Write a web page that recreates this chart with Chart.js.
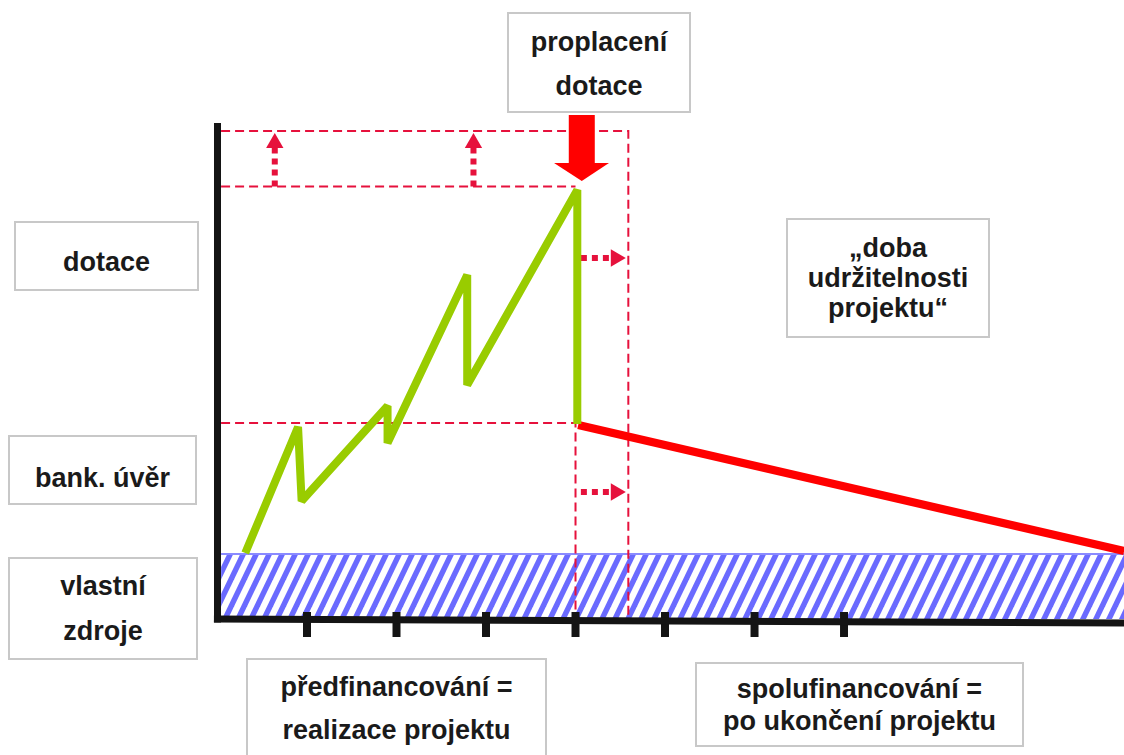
<!DOCTYPE html>
<html>
<head>
<meta charset="utf-8">
<script src="https://cdn.jsdelivr.net/npm/chart.js@4"></script>
<style>
  html, body { margin: 0; padding: 0; background: #fff; overflow: hidden; }
  #wrap { position: relative; width: 1124px; height: 755px; }
  #chart { position: absolute; left: 0; top: 0; }
  .box {
    position: absolute; box-sizing: border-box; border: 2px solid #c8c8c8; background: #fff;
    display: flex; align-items: center; justify-content: center; text-align: center;
    font-family: "Liberation Sans", Arial, sans-serif; font-weight: bold; font-size: 27px; color: #1a1a1a;
  }
</style>
</head>
<body>
<div id="wrap">
  <canvas id="chart" width="1124" height="755"></canvas>
</div>
<script>
// x = time (one unit per tick), y = money
const tickPositions = [1, 2, 3, 4, 5, 6, 7];
const prefinanceX = [0.31, 0.9, 0.94, 1.9, 1.9, 2.79, 2.79, 4.02, 4.02];
const prefinanceY = [6.6, 19.2, 11.8, 21.3, 17.6, 34.4, 23.4, 42.9, 19.5];
const repaymentX = [4.03, 10.13];
const repaymentY = [19.4, 6.8];
const ownFunds = 6.5;        // vlastní zdroje
const bankLoanLevel = 19.6;  // bank. úvěr
const subsidyLevel = 43.25;  // dotace
const topLevel = 48.8;
const payoutX = 4.0;         // proplacení dotace
const sustainX = 4.59;       // začátek doby udržitelnosti
const axisEndX = 10.13;
const axisTopY = 49.6;
const upArrowX = [0.64, 2.86];
const rightArrowY = [36.1, 12.7];

const labels = [
  { text: ['proplacení', 'dotace'], box: [507, 12, 184, 101], lh: 44, dy: 2 },
  { text: ['dotace'], box: [14, 221, 185, 70], lh: 30, dy: 12 },
  { text: ['bank. úvěr'], box: [8, 435, 189, 70], lh: 30, dy: 16 },
  { text: ['vlastní', 'zdroje'], box: [8, 557, 190, 103], lh: 45, dy: 0 },
  { text: ['„doba', 'udržitelnosti', 'projektu“'], box: [786, 218, 204, 120], lh: 30, dy: 0 },
  { text: ['předfinancování =', 'realizace projektu'], box: [246, 658, 301, 101], lh: 43, dy: 0 },
  { text: ['spolufinancování =', 'po ukončení projektu'], box: [695, 662, 329, 85], lh: 32, dy: 0 }
];

const wrap = document.getElementById('wrap');
labels.forEach(l => {
  const d = document.createElement('div');
  d.className = 'box';
  d.style.left = l.box[0] + 'px';
  d.style.top = l.box[1] + 'px';
  d.style.width = l.box[2] + 'px';
  d.style.height = l.box[3] + 'px';
  d.style.lineHeight = l.lh + 'px';
  d.style.paddingTop = l.dy + 'px';
  d.innerHTML = l.text.join('<br>');
  wrap.appendChild(d);
});

const pts = (xs, ys) => xs.map((x, i) => ({ x: x, y: ys[i] }));

// diagonal hatch for own funds
function hatch() {
  const w = 13, h = 27, sw = 6;
  const c = document.createElement('canvas');
  c.width = w; c.height = h;
  const g = c.getContext('2d');
  g.fillStyle = '#fff';
  g.fillRect(0, 0, w, h);
  g.fillStyle = '#6a6aff';
  for (let k = -1; k <= 1; k++) {
    g.beginPath();
    g.moveTo(k * w, h);
    g.lineTo(k * w + w, 0);
    g.lineTo(k * w + w + sw, 0);
    g.lineTo(k * w + sw, h);
    g.closePath();
    g.fill();
  }
  return g.createPattern(c, 'repeat');
}

const dashRed = '#e6113c';
const dashed = (data) => ({
  data: data, borderColor: dashRed, borderWidth: 2, borderDash: [9, 5], order: 8
});
const dotted = (data, rot) => ({
  data: data, borderColor: dashRed, borderWidth: 6, borderDash: [6, 5], borderCapStyle: 'butt',
  pointRadius: [0, 10], pointStyle: 'triangle', pointRotation: rot,
  pointBackgroundColor: dashRed, pointBorderWidth: 0, order: 6
});

const datasets = [
  { data: [{ x: 0.04, y: ownFunds }, { x: axisEndX, y: ownFunds }],
    borderColor: '#8a8aff', borderWidth: 2, fill: 'origin', backgroundColor: hatch(), order: 10 },
  dashed([{ x: 0.04, y: topLevel }, { x: sustainX, y: topLevel }, { x: sustainX, y: 0.1 }]),
  dashed([{ x: 0.04, y: subsidyLevel }, { x: payoutX, y: subsidyLevel }]),
  dashed([{ x: 0.04, y: bankLoanLevel }, { x: payoutX, y: bankLoanLevel }, { x: payoutX, y: 0.1 }]),
  ...upArrowX.map(x => dotted([{ x: x, y: subsidyLevel }, { x: x, y: 47.6 }], 0)),
  ...rightArrowY.map(y => dotted([{ x: 4.06, y: y }, { x: 4.45, y: y }], 90)),
  { data: pts(prefinanceX, prefinanceY), borderColor: '#99cc00', borderWidth: 8,
    borderJoinStyle: 'bevel', borderCapStyle: 'butt', order: 4 },
  { data: pts(repaymentX, repaymentY), borderColor: '#ff0000', borderWidth: 8, order: 4 },
  // axes
  { data: [{ x: 0, y: -0.35 }, { x: 0, y: axisTopY }], borderColor: '#141414', borderWidth: 7, order: 2 },
  { data: [{ x: -0.04, y: 0 }, { x: axisEndX, y: -0.4 }], borderColor: '#141414', borderWidth: 7, order: 2 },
  { data: tickPositions.map(t => ({ x: t, y: -0.55 })), showLine: false,
    pointStyle: 'line', pointRotation: 90, pointRadius: 12.5, pointBorderWidth: 8,
    pointBorderColor: '#141414', order: 2 },
  // proplacení dotace arrow
  { data: [{ x: 4.07, y: 50.4 }, { x: 4.07, y: 45.5 }], borderColor: '#ff0000', borderWidth: 26,
    borderCapStyle: 'butt', order: 1 },
  { data: [{ x: 3.76, y: 45.6 }, { x: 4.07, y: 43.8 }, { x: 4.374, y: 45.6 }], borderWidth: 0,
    borderColor: 'rgba(0,0,0,0)', fill: { value: 45.6 }, backgroundColor: '#ff0000', order: 1 }
];
datasets.forEach(d => { d.clip = false; });

new Chart(document.getElementById('chart'), {
  type: 'line',
  data: { datasets: datasets },
  options: {
    responsive: false,
    animation: false,
    devicePixelRatio: 1,
    events: [],
    layout: { padding: 0, autoPadding: false },
    elements: { point: { radius: 0 }, line: { tension: 0 } },
    plugins: { legend: { display: false }, tooltip: { enabled: false } },
    scales: {
      x: { type: 'linear', display: false, min: -2.43, max: 10.128 },
      y: { type: 'linear', display: false, min: -13.6, max: 61.9 }
    }
  }
});
</script>
</body>
</html>
